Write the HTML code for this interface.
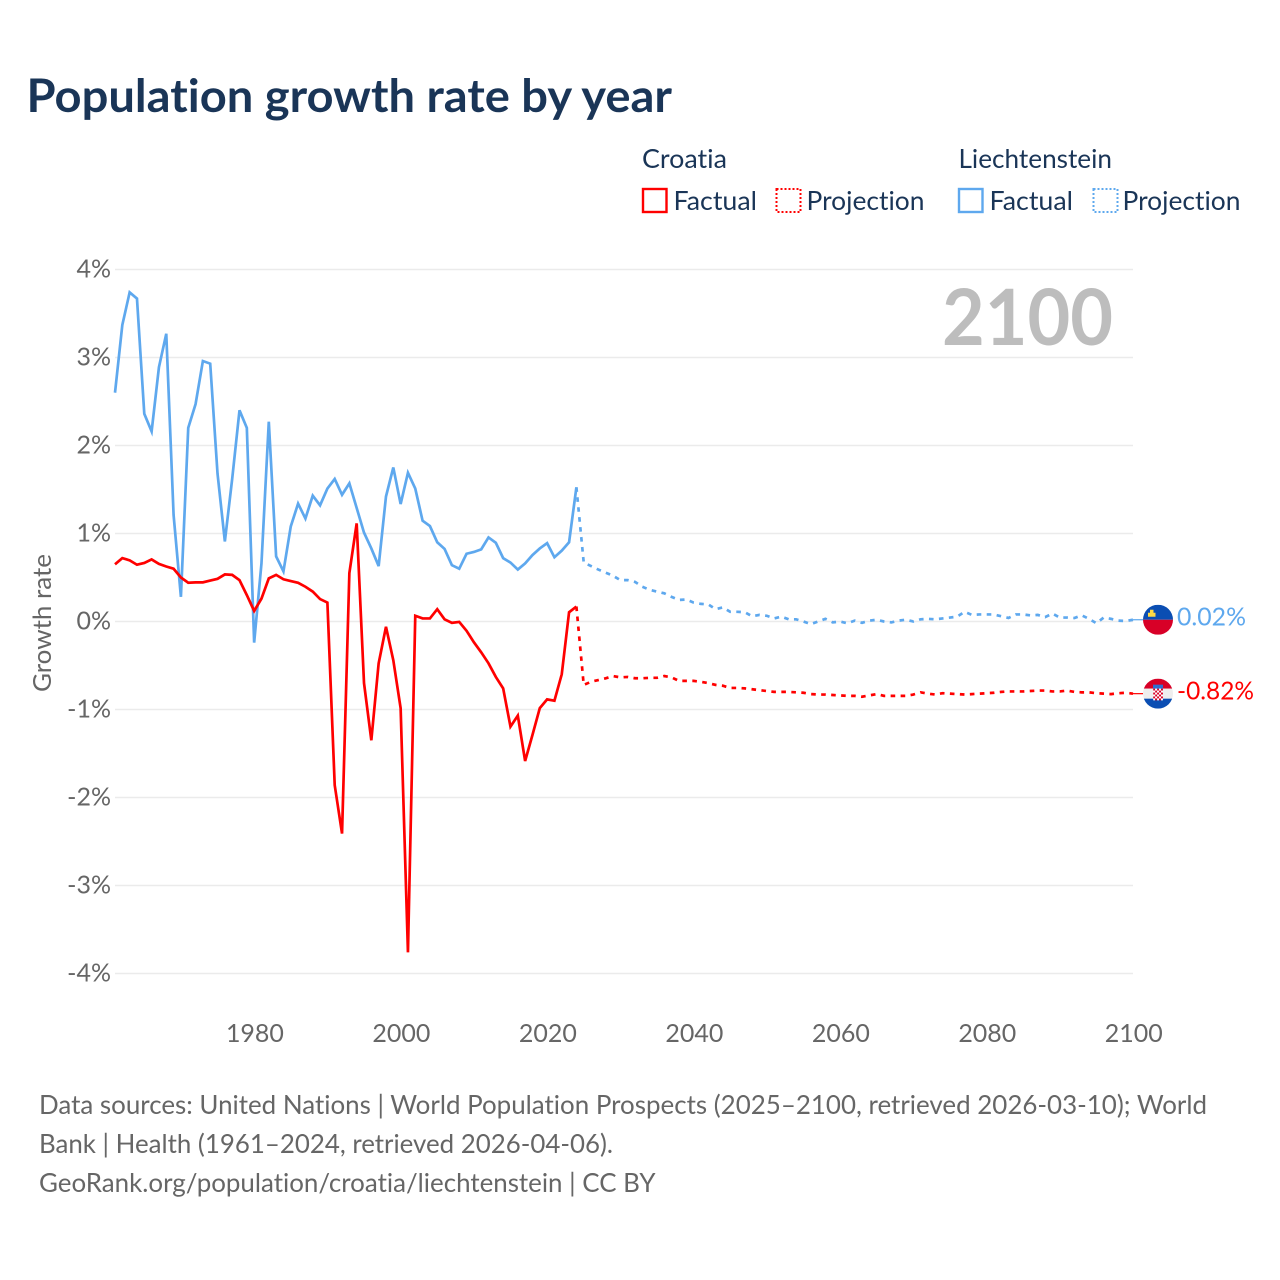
<!DOCTYPE html>
<html lang="en">
<head>
<meta charset="utf-8">
<title>Population growth rate by year</title>
<style>
html,body{margin:0;padding:0;background:#fff;width:1280px;height:1280px;overflow:hidden}
svg{display:block}
text{font-family:"Lato","Carlito","Liberation Sans",sans-serif;font-variant-ligatures:none;font-feature-settings:"liga" 0,"clig" 0}
</style>
</head>
<body>
<svg id="chart" xmlns="http://www.w3.org/2000/svg" width="1280" height="1280" viewBox="0 0 1280 1280">
  <rect x="0" y="0" width="1280" height="1280" fill="#ffffff"/>
  <text x="26.5" y="112" font-size="46" font-weight="700" fill="#1a3557" textLength="645.5" lengthAdjust="spacingAndGlyphs">Population growth rate by year</text>

  <g font-size="26" fill="#1a3557">
    <text x="642" y="168" textLength="85" lengthAdjust="spacingAndGlyphs">Croatia</text>
    <text x="958.5" y="168" textLength="153.5" lengthAdjust="spacingAndGlyphs">Liechtenstein</text>
    <g>
      <rect x="643" y="189" width="23.5" height="23" fill="none" stroke="#ff0000" stroke-width="2.4"/>
      <text x="673.5" y="210" textLength="83.5" lengthAdjust="spacingAndGlyphs">Factual</text>
    </g>
    <g>
      <rect x="776.5" y="189" width="24" height="23" fill="none" stroke="#ff0000" stroke-width="2" stroke-dasharray="2 2"/>
      <text x="806.5" y="210" textLength="118" lengthAdjust="spacingAndGlyphs">Projection</text>
    </g>
    <g>
      <rect x="959" y="189" width="23.5" height="23" fill="none" stroke="#5ea8ee" stroke-width="2.4"/>
      <text x="989.5" y="210" textLength="83.5" lengthAdjust="spacingAndGlyphs">Factual</text>
    </g>
    <g>
      <rect x="1093.5" y="189" width="24" height="23" fill="none" stroke="#5ea8ee" stroke-width="2" stroke-dasharray="2 2"/>
      <text x="1122.5" y="210" textLength="118" lengthAdjust="spacingAndGlyphs">Projection</text>
    </g>
  </g>

  <g id="grid"></g>
  <g id="yaxis"></g>
  <g id="xaxis"></g>
  <text transform="translate(51 623) rotate(-90)" text-anchor="middle" font-size="25" fill="#666666" textLength="138" lengthAdjust="spacingAndGlyphs">Growth rate</text>
  <text x="1113" y="345" text-anchor="end" font-size="78" font-weight="700" fill="#bdbdbd" textLength="171" lengthAdjust="spacingAndGlyphs">2100</text>
  <g id="series"></g>
  <g id="ends"></g>

  <g font-size="26" fill="#666666">
    <text x="39" y="1114" textLength="1168" lengthAdjust="spacingAndGlyphs">Data sources: United Nations | World Population Prospects (2025–2100, retrieved 2026-03-10); World</text>
    <text x="39" y="1153" textLength="574" lengthAdjust="spacingAndGlyphs">Bank | Health (1961–2024, retrieved 2026-04-06).</text>
    <text x="39" y="1192" textLength="616.5" lengthAdjust="spacingAndGlyphs">GeoRank.org/population/croatia/liechtenstein | CC BY</text>
  </g>
</svg>
<script>
const yTickValues = [4, 3, 2, 1, 0, -1, -2, -3, -4];
const yTickLabels = ["4%", "3%", "2%", "1%", "0%", "-1%", "-2%", "-3%", "-4%"];
const xTickYears = [1980, 2000, 2020, 2040, 2060, 2080, 2100];
const xTickLabels = ["1980", "2000", "2020", "2040", "2060", "2080", "2100"];
const factualStartYear = 1961;
const projectionStartYear = 2024;
const croatiaFactual = [0.65,0.72,0.695,0.645,0.665,0.705,0.655,0.625,0.60,0.50,0.44,0.445,0.445,0.465,0.485,0.535,0.53,0.47,0.30,0.12,0.26,0.49,0.53,0.48,0.46,0.44,0.395,0.34,0.255,0.215,-1.86,-2.41,0.55,1.115,-0.70,-1.35,-0.475,-0.06,-0.44,-0.985,-3.76,0.065,0.035,0.035,0.14,0.025,-0.015,-0.005,-0.105,-0.235,-0.35,-0.475,-0.63,-0.76,-1.195,-1.07,-1.585,-1.29,-0.985,-0.885,-0.90,-0.60,0.105,0.17];
const liechtensteinFactual = [2.60,3.37,3.74,3.67,2.36,2.16,2.89,3.27,1.21,0.28,2.20,2.47,2.96,2.93,1.68,0.91,1.62,2.40,2.20,-0.24,0.66,2.27,0.74,0.57,1.08,1.34,1.17,1.43,1.32,1.51,1.62,1.44,1.57,1.29,1.01,0.83,0.63,1.42,1.75,1.335,1.69,1.51,1.145,1.085,0.90,0.825,0.64,0.60,0.77,0.79,0.82,0.955,0.895,0.72,0.67,0.59,0.66,0.755,0.83,0.89,0.73,0.805,0.90,1.525];
const croatiaProjection = [0.17,-0.72,-0.685,-0.665,-0.645,-0.62,-0.635,-0.63,-0.645,-0.645,-0.64,-0.64,-0.62,-0.635,-0.675,-0.675,-0.675,-0.685,-0.70,-0.72,-0.73,-0.755,-0.755,-0.76,-0.77,-0.78,-0.79,-0.80,-0.80,-0.80,-0.805,-0.81,-0.825,-0.83,-0.83,-0.835,-0.84,-0.845,-0.845,-0.855,-0.84,-0.825,-0.845,-0.845,-0.845,-0.845,-0.83,-0.805,-0.82,-0.83,-0.815,-0.82,-0.825,-0.83,-0.825,-0.82,-0.815,-0.81,-0.80,-0.795,-0.795,-0.795,-0.79,-0.785,-0.785,-0.795,-0.795,-0.785,-0.80,-0.805,-0.805,-0.815,-0.82,-0.825,-0.815,-0.81,-0.82];
const liechtensteinProjection = [1.525,0.67,0.63,0.59,0.555,0.52,0.47,0.47,0.45,0.395,0.36,0.34,0.32,0.28,0.245,0.25,0.215,0.20,0.195,0.14,0.16,0.11,0.11,0.105,0.06,0.075,0.065,0.035,0.055,0.025,0.025,0,-0.03,0,0.03,-0.01,0,-0.02,0.01,-0.015,0.01,0.02,0,-0.01,0.01,0.02,0,0.025,0.03,0.025,0.035,0.045,0.055,0.11,0.075,0.08,0.08,0.08,0.06,0.04,0.08,0.08,0.07,0.075,0.05,0.09,0.045,0.045,0.04,0.07,0.03,-0.02,0.045,0.03,0.01,0.005,0.02];
const endValueCroatia = ["-0.82%"];
const endValueLiechtenstein = ["0.02%"];

const NS = "http://www.w3.org/2000/svg";
const COLOR_CROATIA = "#ff0000";
const COLOR_LIECHTENSTEIN = "#5ea8ee";
function xScale(year) { return 115 + (year - 1961) * (1133 - 115) / (2100 - 1961); }
function yScale(value) { return 621.5 - value * 88; }
function make(tag, attrs, parent) {
  const node = document.createElementNS(NS, tag);
  for (const key in attrs) node.setAttribute(key, attrs[key]);
  parent.appendChild(node);
  return node;
}
function linePath(values, startYear) {
  return values.map(function (v, i) {
    return (i ? "L" : "M") + xScale(startYear + i).toFixed(2) + " " + yScale(v).toFixed(2);
  }).join(" ");
}

const grid = document.getElementById("grid");
const yaxis = document.getElementById("yaxis");
const xaxis = document.getElementById("xaxis");
const series = document.getElementById("series");
const ends = document.getElementById("ends");

yTickValues.forEach(function (v, i) {
  const line = make("line", { x1: 115, x2: 1133, y1: yScale(v), y2: yScale(v), stroke: "#ebebeb", "stroke-width": 1.5 }, grid);
  
  
  const label = make("text", { x: 111, y: yScale(v) + 8, "text-anchor": "end", "font-size": 25, fill: "#666666" }, yaxis);
  
  
  label.textContent = yTickLabels[i];
});
xTickYears.forEach(function (year, i) {
  const label = make("text", { x: xScale(year) + 0.8, y: 1042, "text-anchor": "middle", "font-size": 25, fill: "#666666", textLength: 58, lengthAdjust: "spacingAndGlyphs" }, xaxis);
  
  
  label.textContent = xTickLabels[i];
});

const lastYear = 2100;
const leaderLi = make("line", { x1: xScale(lastYear), x2: 1143, y1: yScale(liechtensteinProjection[liechtensteinProjection.length - 1]), y2: yScale(liechtensteinProjection[liechtensteinProjection.length - 1]), stroke: COLOR_LIECHTENSTEIN, "stroke-width": 1.2 }, series);


const leaderHr = make("line", { x1: xScale(lastYear), x2: 1143, y1: yScale(croatiaProjection[croatiaProjection.length - 1]), y2: yScale(croatiaProjection[croatiaProjection.length - 1]), stroke: COLOR_CROATIA, "stroke-width": 1.2 }, series);



const liProj = make("path", { d: linePath(liechtensteinProjection, projectionStartYear), fill: "none", stroke: COLOR_LIECHTENSTEIN, "stroke-width": 2.7, "stroke-dasharray": "4.6 5.4" }, series);


const hrProj = make("path", { d: linePath(croatiaProjection, projectionStartYear), fill: "none", stroke: COLOR_CROATIA, "stroke-width": 2.7, "stroke-dasharray": "4.6 5.4" }, series);


const liFact = make("path", { d: linePath(liechtensteinFactual, factualStartYear), fill: "none", stroke: COLOR_LIECHTENSTEIN, "stroke-width": 2.7, "stroke-linejoin": "miter" }, series);


const hrFact = make("path", { d: linePath(croatiaFactual, factualStartYear), fill: "none", stroke: COLOR_CROATIA, "stroke-width": 2.7, "stroke-linejoin": "miter" }, series);



/* Flags and end-of-line labels follow the final projected value */
const liY = yScale(liechtensteinProjection[liechtensteinProjection.length - 1]);
const hrY = yScale(croatiaProjection[croatiaProjection.length - 1]);
const defs = make("defs", {}, ends);
const clipLi = make("clipPath", { id: "clip-li" }, defs);
make("circle", { cx: 1158, cy: liY, r: 15 }, clipLi);
const clipHr = make("clipPath", { id: "clip-hr" }, defs);
make("circle", { cx: 1158, cy: hrY, r: 15 }, clipHr);

const flagLi = make("g", { "clip-path": "url(#clip-li)" }, ends);


make("rect", { x: 1143, y: liY - 15, width: 30, height: 15, fill: "#0b4eb3" }, flagLi);
make("rect", { x: 1143, y: liY, width: 30, height: 15, fill: "#d80027" }, flagLi);
make("rect", { x: 1148, y: liY - 7, width: 7.5, height: 4, fill: "#ffda44" }, flagLi);
make("rect", { x: 1150, y: liY - 10, width: 3.5, height: 3.5, fill: "#ffda44" }, flagLi);

const flagHr = make("g", { "clip-path": "url(#clip-hr)" }, ends);


make("rect", { x: 1143, y: hrY - 15, width: 30, height: 10, fill: "#d80027" }, flagHr);
make("rect", { x: 1143, y: hrY - 5, width: 30, height: 10, fill: "#eeeeee" }, flagHr);
make("rect", { x: 1143, y: hrY + 5, width: 30, height: 10, fill: "#0b4eb3" }, flagHr);
make("rect", { x: 1153, y: hrY - 9, width: 10, height: 4, fill: "#2f6fd0" }, flagHr);
for (let r = 0; r < 6; r++) {
  for (let c = 0; c < 5; c++) {
    make("rect", { x: 1153.2 + c * 1.95, y: hrY - 5 + r * 1.95, width: 1.95, height: 1.95, fill: (r + c) % 2 ? "#ffffff" : "#d80027" }, flagHr);
  }
}

const labelLi = make("text", { x: 1177, y: liY + 6, "font-size": 25, fill: COLOR_LIECHTENSTEIN, textLength: 69, lengthAdjust: "spacingAndGlyphs" }, ends);


labelLi.textContent = endValueLiechtenstein[0];
const labelHr = make("text", { x: 1177, y: hrY + 6, "font-size": 25, fill: COLOR_CROATIA, textLength: 77, lengthAdjust: "spacingAndGlyphs" }, ends);


labelHr.textContent = endValueCroatia[0];
</script>
</body>
</html>
